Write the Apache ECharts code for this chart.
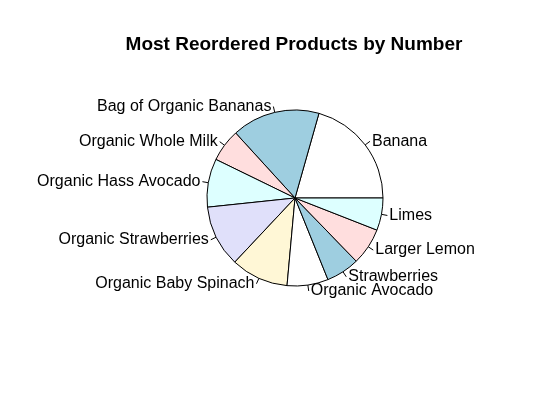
<!DOCTYPE html>
<html>
<head>
<meta charset="utf-8">
<script src="https://cdn.jsdelivr.net/npm/echarts@6/dist/echarts.min.js"></script>
<style>
  html, body { margin: 0; padding: 0; background: #fff; }
  #main { width: 550px; height: 414px; }
</style>
</head>
<body>
<div id="main"></div>
<script>
// slice order as drawn (counter-clockwise from 3 o'clock)
var products = ['Banana', 'Bag of Organic Bananas', 'Organic Whole Milk', 'Organic Hass Avocado',
    'Organic Strawberries', 'Organic Baby Spinach', 'Organic Avocado', 'Strawberries',
    'Larger Lemon', 'Limes'];
// reorder counts
var reorders = [74.2, 58.2, 21.6, 32.0, 40.8, 38.0, 27.2, 22.1, 24.5, 21.4];
// R default pie palette
var sliceColors = ['#FFFFFF', '#9ECEE0', '#FFDEDE', '#DDFFFF', '#E0E0FA', '#FFF7D6'];

var myChart = echarts.init(document.getElementById('main'));

var pieData = products.map(function (p, i) {
    return {
        name: p,
        value: reorders[i],
        itemStyle: { color: sliceColors[i % sliceColors.length] }
    };
});

option = {
    animation: false,
    title: {
        text: 'Most Reordered Products by Number',
        left: 289,
        top: 30,
        textAlign: 'center',
        textStyle: {
            fontFamily: 'Liberation Sans',
            fontSize: 19,
            fontWeight: 'bold',
            color: '#000'
        }
    },
    series: [{
        type: 'pie',
        center: [295, 198],
        radius: [0, 88],
        startAngle: 0,
        clockwise: false,
        avoidLabelOverlap: false,
        minShowLabelAngle: 0,
        labelLayout: { hideOverlap: false },
        itemStyle: {
            borderColor: '#000',
            borderWidth: 1
        },
        label: {
            show: true,
            position: 'outside',
            fontFamily: 'Liberation Sans',
            fontSize: 16,
            color: '#000',
            padding: [4, 0, 0, 0],
            distanceToLabelLine: 2
        },
        labelLine: {
            show: true,
            length: 6,
            length2: 0,
            smooth: false,
            lineStyle: { color: '#000', width: 1 }
        },
        emphasis: { disabled: true },
        data: pieData
    }]
};

myChart.setOption(option);
window.addEventListener("resize", function () {
    myChart.resize();
});
</script>
</body>
</html>
